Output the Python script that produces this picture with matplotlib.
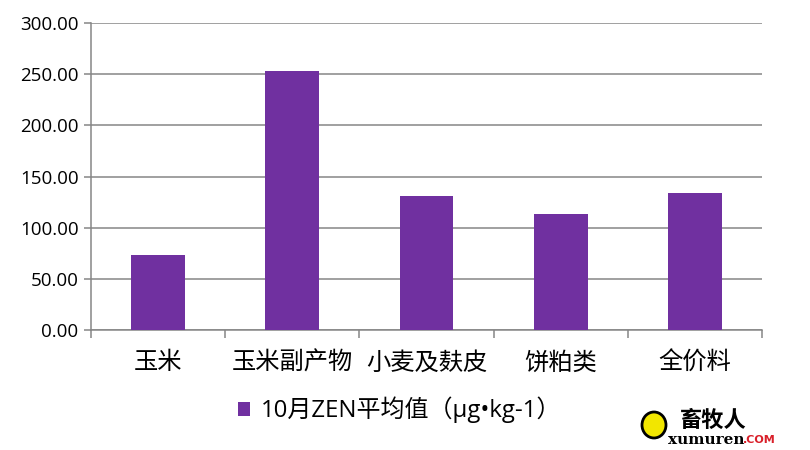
import numpy as np
import matplotlib.pyplot as plt
from matplotlib.patches import Ellipse

plt.rcParams['font.family'] = ['Open Sans', 'Noto Sans CJK SC', 'DejaVu Sans']

categories = ["玉米", "玉米副产物", "小麦及麸皮", "饼粕类", "全价料"]
zen_oct = [73.4, 253.4, 131.1, 113.5, 134.0]
series_name = "10月ZEN平均值（μg•kg-1）"
purple = "#7030A0"
grey = "#868686"

fig = plt.figure(figsize=(8.1, 4.5), dpi=100)
ax = fig.add_axes([91/810, 1 - 330/450, (762-91)/810, (330-23)/450])

x = np.arange(len(categories))
ax.bar(x, zen_oct, width=0.4, color=purple, zorder=3, label=series_name)

ax.set_xlim(-0.5, len(categories) - 0.5)
ax.set_ylim(0, 300)
ax.set_yticks(np.arange(0, 301, 50))
ax.set_yticklabels([f"{v:.2f}" for v in np.arange(0, 301, 50)], fontsize=13.5)
ax.yaxis.grid(True, color=grey, linewidth=1.1, zorder=0)

# category labels between boundary ticks
ax.set_xticks(np.arange(-0.5, len(categories) + 0.5, 1))
ax.set_xticklabels([])
ax.set_xticks(x, minor=True)
ax.set_xticklabels(categories, minor=True, fontsize=17.5, family=['Noto Sans CJK SC'])
ax.tick_params(axis='x', which='minor', length=0, pad=14)
ax.tick_params(axis='x', which='major', length=6, color=grey, width=1.1)
ax.tick_params(axis='y', length=5, color=grey, width=1.1, pad=4)

for s in ['top', 'right']:
    ax.spines[s].set_visible(False)
for s in ['left', 'bottom']:
    ax.spines[s].set_color(grey)
    ax.spines[s].set_linewidth(1.1)

fig.legend(loc='center', bbox_to_anchor=(400/810, 1 - 410/450), frameon=False,
           fontsize=17.3, handlelength=0.5, handleheight=0.5, handletextpad=0.45)

# watermark logo
fig.patches.append(Ellipse((654/810, 1 - 425/450), 24/810, 26/450, transform=fig.transFigure,
                           facecolor="#F2E600", edgecolor="black", linewidth=2))
fig.text(680/810, 1 - 420/450, "畜牧人", fontsize=16, weight='bold', va='center', ha='left',
         family=['Noto Sans CJK SC'])
fig.text(668/810, 1 - 440/450, "xumuren", fontsize=11, weight='bold', va='center', ha='left',
         family=['DejaVu Serif'])
fig.text(743/810, 1 - 440/450, ".COM", fontsize=8, weight='bold', color="#D9202A",
         va='center', ha='left', family=['DejaVu Sans'])

fig.savefig("out.png", dpi=100)
